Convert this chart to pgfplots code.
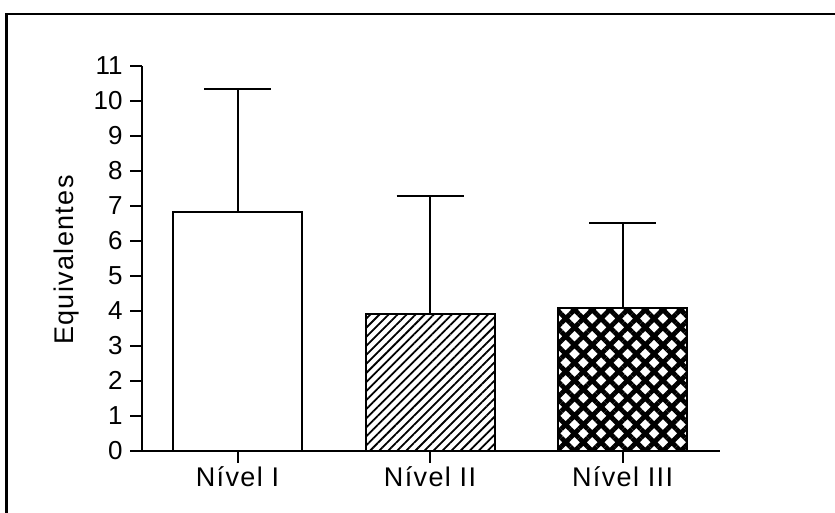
\documentclass[border=0pt]{standalone}
\usepackage{fontspec}
\setmainfont{Liberation Sans}
\newfontfamily\labelfont[LetterSpace=5]{Liberation Sans}
\usepackage{pgfplots}
\pgfplotsset{compat=1.18}
\usetikzlibrary{patterns.meta}
\begin{document}
\begin{tikzpicture}
\path[use as bounding box, clip] (0,0) rectangle (417.5pt,256.5pt);
\draw[line width=1.3pt] (3.25pt,-5pt) -- (3.25pt,249.5pt) -- (430pt,249.5pt);
\begin{axis}[
  at={(71pt,31.15pt)}, anchor=south west,
  scale only axis, width=289pt, height=192.5pt,
  xmin=-0.496, xmax=2.506, ymin=0, ymax=11,
  axis lines=left, axis line style={-, line width=1pt},
  tick align=outside, major tick length=6pt,
  tick style={line width=1pt, black},
  xtick={0,1,2}, xticklabels={Nível I,Nível II,Nível III},
  ytick={0,1,2,3,4,5,6,7,8,9,10,11},
  yticklabels={0,1,2,3,4,5,6,7,8,9,10,11},
  /pgf/number format/assume math mode=true,
  yticklabel style={font=\fontsize{13}{15}\selectfont, inner sep=3.5pt},
  xticklabel style={font=\labelfont\fontsize{13.5}{16}\selectfont, inner sep=2pt},
  clip=false,
]
\addplot[ybar, bar shift=0pt, bar width=0.67, draw=black, line width=1pt, fill=white,
  error bars/.cd, y dir=plus, y explicit, error mark=|,
  error bar style={line width=1pt, black},
  error mark options={line width=1pt, black, mark size=16.75pt}]
  coordinates {(0,6.81) +- (0,3.53)};
\addplot[ybar, bar shift=0pt, bar width=0.67, draw=black, line width=1pt, fill=white,
  postaction={pattern={Lines[angle=45,distance=3.2pt,line width=0.9pt]}},
  error bars/.cd, y dir=plus, y explicit, error mark=|,
  error bar style={line width=1pt, black},
  error mark options={line width=1pt, black, mark size=16.75pt}]
  coordinates {(1,3.91) +- (0,3.36)};
\addplot[ybar, bar shift=0pt, bar width=0.67, draw=black, line width=1pt, fill=white,
  postaction={pattern={Hatch[angle=45,distance=6.25pt,line width=2.4pt]}},
  error bars/.cd, y dir=plus, y explicit, error mark=|,
  error bar style={line width=1pt, black},
  error mark options={line width=1pt, black, mark size=16.75pt}]
  coordinates {(2,4.09) +- (0,2.42)};
\end{axis}
\node[rotate=90, anchor=base, font=\labelfont\fontsize{13.5}{16}\selectfont] at (36.5pt,126.5pt) {Equivalentes};
\end{tikzpicture}
\end{document}
